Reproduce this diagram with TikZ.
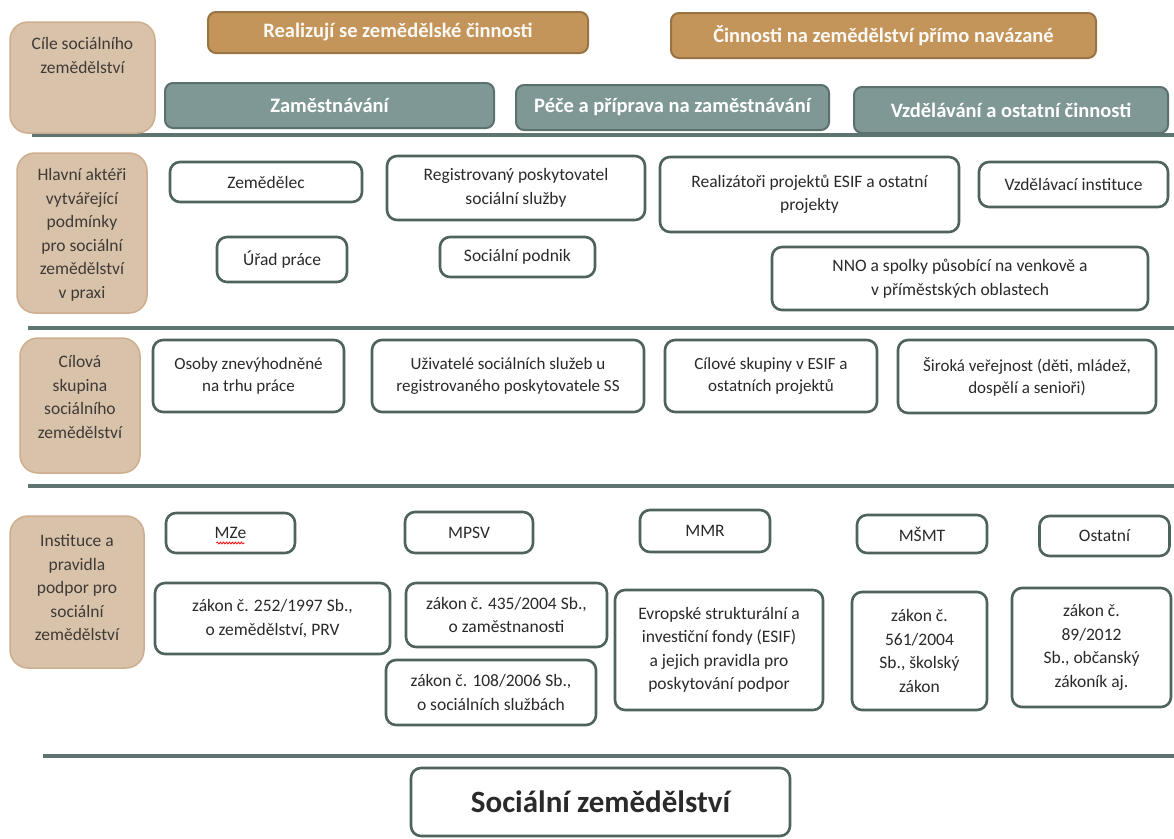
\documentclass[tikz,border=0pt]{standalone}
\usepackage{fontspec}
\setmainfont{Carlito}
\usetikzlibrary{decorations.pathmorphing}
\definecolor{tanfill}{HTML}{D9C2AA}
\definecolor{tanedge}{HTML}{CDAE8E}
\definecolor{brownfill}{HTML}{C4955A}
\definecolor{brownedge}{HTML}{9A7344}
\definecolor{tealfill}{HTML}{7F9896}
\definecolor{tealedge}{HTML}{5A716E}
\definecolor{boxedge}{HTML}{4E625E}
\definecolor{sepline}{HTML}{5E7471}
\definecolor{txt}{HTML}{2A2A2A}
\definecolor{tantxt}{HTML}{3E3A36}
\begin{document}
\begin{tikzpicture}[x=1pt,y=-1pt,
  sz/.style 2 args={minimum width=#1pt, minimum height=#2pt},
  wbox/.style={draw=boxedge, line width=2.6pt, fill=white, rounded corners=10pt, inner sep=0pt, align=center, text=txt, font=\fontsize{17.5}{23.5}\selectfont},
  wsmall/.style={font=\fontsize{17}{22}\selectfont},
  tanbox/.style={draw=tanedge, line width=1.5pt, fill=tanfill, rounded corners=18pt, inner sep=0pt},
  tantext/.style={align=center, text=tantxt, font=\fontsize{17.5}{23.5}\selectfont, inner sep=0pt},
  brownbox/.style={draw=brownedge, line width=2pt, fill=brownfill, rounded corners=8pt, inner sep=0pt, align=center, text=white!94!brownfill, font=\fontsize{20.5}{24}\selectfont\bfseries},
  tealbox/.style={draw=tealedge, line width=2pt, fill=tealfill, rounded corners=8pt, inner sep=0pt, align=center, text=white, font=\fontsize{20.5}{24}\selectfont\bfseries},
  sepl/.style={draw=sepline, line width=3.4pt}
]
\fill[white] (0,0) rectangle (1174,838);
\useasboundingbox (0,0) rectangle (1174,838);

% separators
\coordinate (s1a) at (32,135);  \coordinate (s1b) at (1174,135);
\coordinate (s2a) at (28,328);  \coordinate (s2b) at (1174,328);
\coordinate (s3a) at (28,486);  \coordinate (s3b) at (1174,486);
\coordinate (s4a) at (43,756);  \coordinate (s4b) at (1174,756);
\draw[sepl] (s1a) -- (s1b);
\draw[sepl] (s2a) -- (s2b);
\draw[sepl] (s3a) -- (s3b);
\draw[sepl] (s4a) -- (s4b);

% row 1
\node[tanbox, sz={145}{111}] (cile) at (82.5,77.5) {};
\node[tantext] (cilet) at (82.5,55.5) {Cíle sociálního\\zemědělství};
\node[brownbox, sz={380}{41}] (real) at (398,32.5) {Realizují se zemědělské činnosti};
\node[brownbox, sz={425}{45}] (cinn) at (883.5,35.5) {Činnosti na zemědělství přímo navázané};
\node[tealbox, sz={329}{45}] (zam) at (329.5,105.5) {Zaměstnávání};
\node[tealbox, sz={313}{45}] (pece) at (672.5,107.5) {Péče a příprava na zaměstnávání};
\node[tealbox, sz={314}{46}] (vzd) at (1011,110) {Vzdělávání a ostatní činnosti};

% row 2
\node[tanbox, sz={130}{160}] (hlavni) at (82,233) {};
\node[tantext] (hlavnit) at (82,235) {Hlavní aktéři\\vytvářející\\podmínky\\pro sociální\\zemědělství\\v praxi};
\node[wbox, sz={192}{40}] (zemed) at (266,182) {Zemědělec};
\node[wbox, sz={258}{64}] (regp) at (516,188) {Registrovaný poskytovatel\\sociální služby};
\node[wbox, sz={299}{75}] (realiz) at (809.5,194.5) {Realizátoři projektů ESIF a ostatní\\projekty};
\node[wbox, sz={189}{45}] (vzdinst) at (1073.5,184.5) {Vzdělávací instituce};
\node[wbox, sz={130}{45}] (urad) at (282,259.5) {Úřad práce};
\node[wbox, sz={155}{40}] (socpod) at (517.5,257) {Sociální podnik};
\node[wbox, sz={376}{63}] (nno) at (960,278.5) {NNO a spolky působící na venkově a\\v příměstských oblastech};

% row 3
\node[tanbox, sz={120}{135}] (cilova) at (80,405.5) {};
\node[tantext] (cilovat) at (80,397) {Cílová\\skupina\\sociálního\\zemědělství};
\node[wbox, wsmall, sz={191}{72}] (osoby) at (248.5,376) {Osoby znevýhodněné\\na trhu práce};
\node[wbox, wsmall, sz={272}{72}] (uziv) at (508,376) {Uživatelé sociálních služeb u\\registrovaného poskytovatele SS};
\node[wbox, wsmall, sz={212}{72}] (cilsk) at (771,376) {Cílové skupiny v ESIF a\\ostatních projektů};
\node[wbox, wsmall, sz={258}{73}] (siroka) at (1027,376.5) {Široká veřejnost (děti, mládež,\\dospělí a senioři)};

% row 4
\node[tanbox, sz={134}{152}] (instit) at (77,592) {};
\node[tantext] (institt) at (77,588) {Instituce a\\pravidla\\podpor pro\\sociální\\zemědělství};
\node[wbox, sz={129}{40}] (mze) at (230.5,533) {MZe};
\node[wbox, sz={128}{41}] (mpsv) at (469,532.5) {MPSV};
\node[wbox, sz={130}{42}] (mmr) at (705,531) {MMR};
\node[wbox, sz={130}{38}] (msmt) at (922,534) {MŠMT};
\node[wbox, sz={130}{40}] (ostat) at (1104.5,536) {Ostatní};
\node[wbox, sz={235}{71}] (z252) at (272.5,618.5) {zákon č. 252/1997 Sb.,\\o zemědělství, PRV};
\node[wbox, sz={201}{64}] (z435) at (506.5,615) {zákon č. 435/2004 Sb.,\\o zaměstnanosti};
\node[wbox, sz={210}{65}] (z108) at (491,692.5) {zákon č. 108/2006 Sb.,\\o sociálních službách};
\node[wbox, sz={208}{120}] (esif) at (719,650) {Evropské strukturální a\\investiční fondy (ESIF)\\a jejich pravidla pro\\poskytování podpor};
\node[wbox, sz={135}{118}] (z561) at (919.5,651) {zákon č.\\561/2004\\Sb., školský\\zákon};
\node[wbox, sz={159}{119}] (z89) at (1091.5,647.5) {zákon č.\\89/2012\\Sb., občanský\\zákoník aj.};
\draw[red, line width=0.8pt, decorate, decoration={snake, amplitude=0.9pt, segment length=3pt}]
  ([xshift=-14pt, yshift=-10pt]mze.center) -- ([xshift=14pt, yshift=-10pt]mze.center);

% bottom
\node[wbox, sz={379}{68}, font=\fontsize{31}{34}\selectfont\bfseries] (sz) at (600.5,802) {Sociální zemědělství};
\end{tikzpicture}
\end{document}
